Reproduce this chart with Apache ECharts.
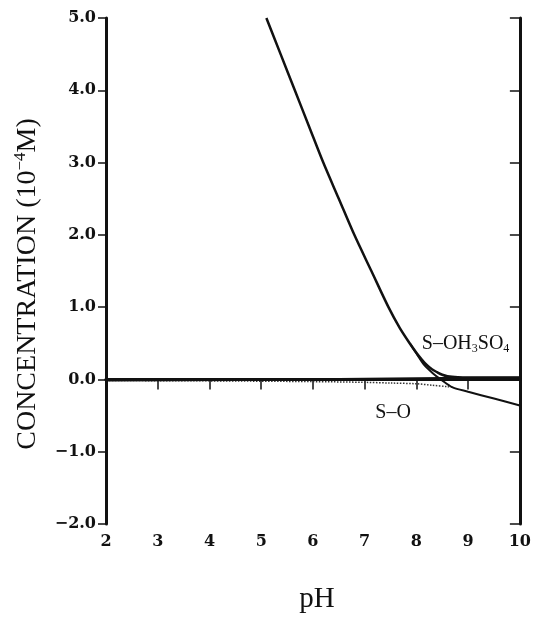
<!DOCTYPE html>
<html>
<head>
<meta charset="utf-8">
<script src="https://cdn.jsdelivr.net/npm/echarts@6/dist/echarts.min.js"></script>
<style>html,body{margin:0;padding:0;background:#fff}#c{width:534px;height:619px}</style>
</head>
<body>
<div id="c"></div>
<script>
// pH ticks and concentration ticks (10^-4 M)
const xTicks = [2, 3, 4, 5, 6, 7, 8, 9, 10];
const yTicks = [-2, -1, 0, 1, 2, 3, 4, 5];

// main (total) curve, joining S-OH3SO4 branch
const mainPH  = [5.1, 5.375, 5.65, 5.925, 6.2, 6.5, 6.8, 7.13, 7.46, 7.68, 7.88, 8.0, 8.1, 8.2, 8.3, 8.4, 8.5, 8.6, 8.8, 9.0, 10];
const mainVal = [5.0, 4.5, 4.0, 3.5, 3.0, 2.5, 2.0, 1.5, 1.0, 0.71, 0.49, 0.37, 0.28, 0.2, 0.14, 0.1, 0.065, 0.045, 0.03, 0.025, 0.025];

// S-O branch
const soPH  = [7.88, 8.0, 8.15, 8.31, 8.47, 8.7, 9.0, 9.5, 10];
const soVal = [0.49, 0.36, 0.2, 0.09, 0.0, -0.11, -0.17, -0.265, -0.36];

// near-zero baseline
const basePH  = [2, 6, 8.5, 10];
const baseVal = [-0.01, 0.0, 0.015, 0.02];

// dotted near-zero curve
const dotPH  = [2, 4, 6, 7, 7.5, 8, 8.3, 8.6, 8.7];
const dotVal = [-0.015, -0.02, -0.03, -0.04, -0.05, -0.06, -0.08, -0.1, -0.11];

// dotted piece between branches
const dot2PH  = [7.9, 8.0, 8.15, 8.3];
const dot2Val = [0.47, 0.365, 0.21, 0.11];

const labelOH = {pH: 8.95, val: 0.49};
const labelO  = {pH: 7.55, val: -0.46};

const zip = (a, b) => a.map((v, i) => [v, b[i]]);

const chart = echarts.init(document.getElementById('c'), null, {renderer: 'canvas'});
const tickFont = {fontFamily: 'DejaVu Serif', fontWeight: 'bold', fontSize: 16, color: '#111'};
const lineCol = '#111';

const option = {
  backgroundColor: '#fff',
  animation: false,
  grid: {left: 106, right: 10, top: 18, bottom: 89, containLabel: false},
  xAxis: [{
    type: 'value', min: 2, max: 10, interval: 1, position: 'bottom',
    name: 'pH', nameLocation: 'middle', nameGap: 61,
    nameTextStyle: {fontFamily: 'Liberation Serif', fontSize: 29, color: '#111', padding: [0, 0, 0, 8]},
    axisLine: {show: true, lineStyle: {color: lineCol, width: 3}},
    axisTick: {show: true, inside: false, length: 6, lineStyle: {color: lineCol, width: 1.5}},
    axisLabel: Object.assign({margin: 10, formatter: v => String(v)}, tickFont),
    splitLine: {show: false}
  }, {
    type: 'value', min: 2, max: 10, interval: 1, position: 'top',
    axisLine: {show: true, lineStyle: {color: lineCol, width: 3}},
    axisTick: {show: true, inside: true, length: 10, lineStyle: {color: lineCol, width: 1.5}},
    axisLabel: {show: false}, splitLine: {show: false}
  }],
  yAxis: [{
    type: 'value', min: -2, max: 5, interval: 1, position: 'left',
    name: '{a|CONCENTRATION (10}{s|−4}{a|M)}', nameLocation: 'middle', nameGap: 62, nameRotate: 90,
    nameTextStyle: {
      padding: [0, 26, 0, 0],
      rich: {
        a: {fontFamily: 'Liberation Serif', fontSize: 28, lineHeight: 32, color: '#111'},
        s: {fontFamily: 'Liberation Serif', fontSize: 17, lineHeight: 17, verticalAlign: 'top', color: '#111'}
      }
    },
    axisLine: {show: true, lineStyle: {color: lineCol, width: 3}},
    axisTick: {show: true, inside: false, length: 8, lineStyle: {color: lineCol, width: 1.5}},
    axisLabel: Object.assign({margin: 10, formatter: v => (v < 0 ? '−' : '') + Math.abs(v).toFixed(1)}, tickFont),
    splitLine: {show: false}
  }, {
    type: 'value', min: -2, max: 5, interval: 1, position: 'right',
    axisLine: {show: true, lineStyle: {color: lineCol, width: 3}},
    axisTick: {show: true, inside: true, length: 10, lineStyle: {color: lineCol, width: 1.5}},
    axisLabel: {show: false}, splitLine: {show: false}
  }],
  series: [
    {
      type: 'line', name: 'baseline', data: zip(basePH, baseVal), showSymbol: false, symbol: 'none',
      lineStyle: {color: lineCol, width: 2.5}, z: 3
    },
    {
      type: 'line', name: 'dotted', data: zip(dotPH, dotVal), showSymbol: false, symbol: 'none', smooth: 0.3,
      lineStyle: {color: '#333', width: 1.5, type: 'dotted'}, z: 2
    },
    {
      type: 'line', name: 'dotted2', data: zip(dot2PH, dot2Val), showSymbol: false, symbol: 'none', smooth: 0.3,
      lineStyle: {color: '#555', width: 1.1, type: 'dotted'}, z: 2
    },
    {
      type: 'line', name: 'S-O', data: zip(soPH, soVal), showSymbol: false, symbol: 'none',
      smooth: 0.3,
      lineStyle: {color: lineCol, width: 2}, z: 4,
      markPoint: {
        symbol: 'circle', symbolSize: 1, itemStyle: {color: 'rgba(0,0,0,0)'},
        label: {show: true, position: 'inside', formatter: 'S–O',
          fontFamily: 'Liberation Serif', fontSize: 20, color: '#111'},
        data: [{coord: [labelO.pH, labelO.val]}]
      }
    },
    {
      type: 'line', name: 'S-OH3SO4', data: zip(mainPH, mainVal), showSymbol: false, symbol: 'none',
      smooth: 0.3,
      lineStyle: {color: lineCol, width: 2.5}, z: 5, clip: true,
      markPoint: {
        symbol: 'circle', symbolSize: 1, itemStyle: {color: 'rgba(0,0,0,0)'},
        label: {show: true, position: 'inside', formatter: '{t|S–OH}{b|3}{t|SO}{b|4}',
          rich: {
            t: {fontFamily: 'Liberation Serif', fontSize: 20, color: '#111', lineHeight: 22},
            b: {fontFamily: 'Liberation Serif', fontSize: 12, color: '#111', lineHeight: 12, verticalAlign: 'bottom'}
          }},
        data: [{coord: [labelOH.pH, labelOH.val]}]
      }
    }
  ]
};
chart.setOption(option);
</script>
</body>
</html>
